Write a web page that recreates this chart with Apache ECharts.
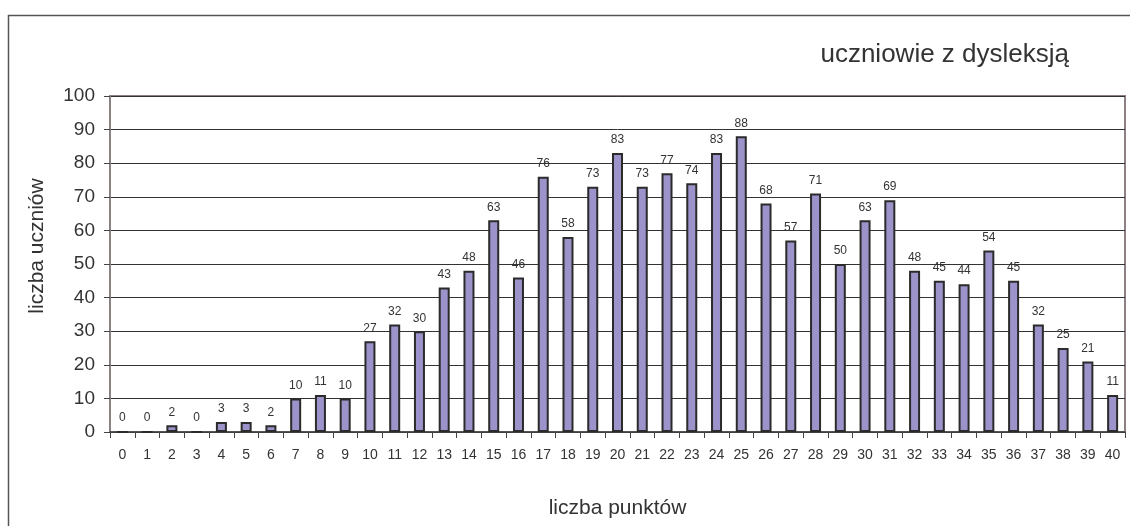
<!DOCTYPE html>
<html><head><meta charset="utf-8">
<script src="https://cdn.jsdelivr.net/npm/echarts@6/dist/echarts.min.js"></script>
<style>html,body{margin:0;padding:0;background:#fff}#c{width:1130px;height:526px}</style>
</head><body><div id="c"></div>
<script>
const categories = ['0','1','2','3','4','5','6','7','8','9','10','11','12','13','14','15','16','17','18','19','20','21','22','23','24','25','26','27','28','29','30','31','32','33','34','35','36','37','38','39','40'];
const values = [0,0,2,0,3,3,2,10,11,10,27,32,30,43,48,63,46,76,58,73,83,73,77,74,83,88,68,57,71,50,63,69,48,45,44,54,45,32,25,21,11];
const titleText = 'uczniowie z dysleksją';
const xName = 'liczba punktów';
const yName = 'liczba uczniów';

const chart = echarts.init(document.getElementById('c'), null, {renderer:'canvas'});
const font = "'Liberation Sans', Arial, sans-serif";
chart.setOption({
  animation:false,
  textStyle:{fontFamily:font},
  graphic:[{type:'rect', shape:{x:8.5,y:15.5,width:1200,height:600}, style:{fill:null, stroke:'#555', lineWidth:1.5}, z:0}],
  title:{text:titleText, right:56, top:37, textStyle:{fontFamily:font, fontSize:26, fontWeight:'normal', color:'#333'}},
  grid:{left:110, right:5, top:96, bottom:94, show:true, borderColor:'#8c8080', borderWidth:2, backgroundColor:'transparent'},
  xAxis:{type:'category', data:categories, boundaryGap:true,
    name:xName, nameLocation:'middle', nameGap:66, nameTextStyle:{fontSize:21, color:'#333', fontFamily:font},
    axisLine:{lineStyle:{color:'#444', width:1.5}},
    axisTick:{show:true, alignWithLabel:false, length:6, lineStyle:{color:'#444'}},
    axisLabel:{fontSize:14, color:'#333', margin:16, interval:0, fontFamily:font},
    splitLine:{show:false}},
  yAxis:{type:'value', min:0, max:100, interval:10,
    name:yName, nameLocation:'middle', nameGap:62, nameTextStyle:{fontSize:21, color:'#333', fontFamily:font, padding:[0,0,0,36]},
    axisLine:{show:true, lineStyle:{color:'#8c8080', width:2}},
    axisTick:{show:true, length:6, lineStyle:{color:'#444'}},
    axisLabel:{fontSize:19, color:'#333', margin:15, fontFamily:font},
    splitLine:{show:true, lineStyle:{color:'#333', width:1}}},
  series:[{type:'bar', data:values, barWidth:11,
    itemStyle:{color:'#9b93c9', borderColor:'#2b2b2b', borderWidth:2},
    label:{show:true, position:'top', distance:7, fontSize:12, color:'#333', fontFamily:font}}]
});
</script></body></html>
